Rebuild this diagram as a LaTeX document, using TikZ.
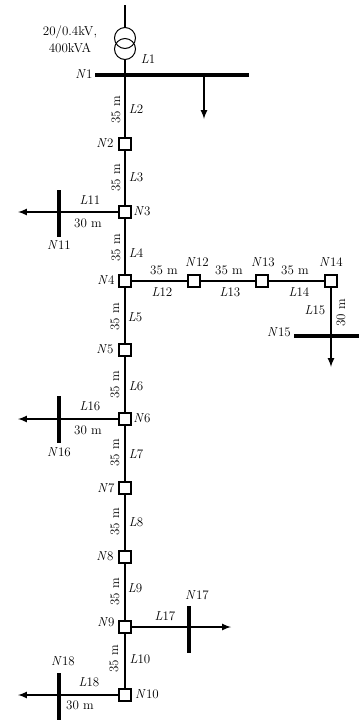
\documentclass[tikz,border=0pt]{standalone}
\usepackage{xcolor}
\usepackage{amsmath}
\usepackage{tikz}

\begin{document}
\begin{tikzpicture}[
  x=1pt,y=-1pt,
  every node/.style={font=\fontsize{13}{14.5}\selectfont,inner sep=0pt},
  busnode/.style={draw,line width=1.1pt,fill=white,minimum size=12pt},
  line/.style={line width=2pt},
  bus/.style={line width=4pt},
  load/.style={line width=2pt,-latex},
  winding/.style={draw,line width=1pt,circle,minimum size=21pt}
  ]
  \useasboundingbox (0,0) rectangle (359,721);
  % feeder ends and bus bars
  \coordinate (top) at (125,5);
  \coordinate (bus1l) at (95,75);
  \coordinate (bus1r) at (249,75);
  \coordinate (bus1m) at (125,75);
  \coordinate (bus1t) at (204,75);
  \coordinate (load1) at (204,119);
  \coordinate (bus11t) at (59,190);
  \coordinate (bus11b) at (59,237);
  \coordinate (bus11m) at (59,212);
  \coordinate (load11) at (18,212);
  \coordinate (bus16t) at (59,396);
  \coordinate (bus16b) at (59,443);
  \coordinate (bus16m) at (59,419);
  \coordinate (load16) at (18,419);
  \coordinate (bus17t) at (189,606);
  \coordinate (bus17b) at (189,653);
  \coordinate (bus17m) at (189,627);
  \coordinate (load17) at (231,627);
  \coordinate (bus18t) at (59,673);
  \coordinate (bus18b) at (59,720);
  \coordinate (bus18m) at (59,695);
  \coordinate (load18) at (18,695);
  \coordinate (bus15l) at (294,336);
  \coordinate (bus15r) at (359,336);
  \coordinate (bus15m) at (331,336);
  \coordinate (load15) at (331,367);

  % transformer
  \node[winding] (hv) at (125,38) {};
  \node[winding] (lv) at (125,49) {};

  % nodes on the feeder
  \node[busnode] (n2) at (125,144) {};
  \node[busnode] (n3) at (125,212) {};
  \node[busnode] (n4) at (125,281) {};
  \node[busnode] (n5) at (125,350) {};
  \node[busnode] (n6) at (125,419) {};
  \node[busnode] (n7) at (125,488) {};
  \node[busnode] (n8) at (125,557) {};
  \node[busnode] (n9) at (125,627) {};
  \node[busnode] (n10) at (125,695) {};
  \node[busnode] (n12) at (194,281) {};
  \node[busnode] (n13) at (262,281) {};
  \node[busnode] (n14) at (331,281) {};

  % lines
  \draw[line] (top) -- (hv);
  \draw[line] (lv) -- (bus1m);
  \draw[line] (bus1m) -- (n2);
  \draw[line] (n2) -- (n3);
  \draw[line] (n3) -- (n4);
  \draw[line] (n4) -- (n5);
  \draw[line] (n5) -- (n6);
  \draw[line] (n6) -- (n7);
  \draw[line] (n7) -- (n8);
  \draw[line] (n8) -- (n9);
  \draw[line] (n9) -- (n10);
  \draw[line] (n4) -- (n12);
  \draw[line] (n12) -- (n13);
  \draw[line] (n13) -- (n14);
  \draw[line] (n14) -- (bus15m);
  \draw[line] (n3) -- (bus11m);
  \draw[line] (n6) -- (bus16m);
  \draw[line] (n9) -- (bus17m);
  \draw[line] (n10) -- (bus18m);

  % bus bars
  \draw[bus] (bus1l) -- (bus1r);
  \draw[bus] (bus11t) -- (bus11b);
  \draw[bus] (bus16t) -- (bus16b);
  \draw[bus] (bus17t) -- (bus17b);
  \draw[bus] (bus18t) -- (bus18b);
  \draw[bus] (bus15l) -- (bus15r);

  % loads
  \draw[load] (bus1t) -- (load1);
  \draw[load] (bus11m) -- (load11);
  \draw[load] (bus16m) -- (load16);
  \draw[load] (bus17m) -- (load17);
  \draw[load] (bus18m) -- (load18);
  \draw[load] (bus15m) -- (load15);

  % node labels
  \node (tn1) at (84,74) {\textit{N}1};
  \node (tn2) at (105,143) {\textit{N}2};
  \node (tn3) at (142,211) {\textit{N}3};
  \node (tn4) at (106,280) {\textit{N}4};
  \node (tn5) at (105,349) {\textit{N}5};
  \node (tn6) at (142,418) {\textit{N}6};
  \node (tn7) at (106,488) {\textit{N}7};
  \node (tn8) at (105,556) {\textit{N}8};
  \node (tn9) at (106,622) {\textit{N}9};
  \node (tn10) at (147,694) {\textit{N}10};
  \node (tn11) at (59,245) {\textit{N}11};
  \node (tn12) at (197,262) {\textit{N}12};
  \node (tn13) at (263,262) {\textit{N}13};
  \node (tn14) at (331,262) {\textit{N}14};
  \node (tn15) at (279,332) {\textit{N}15};
  \node (tn16) at (59,452) {\textit{N}16};
  \node (tn17) at (197,595) {\textit{N}17};
  \node (tn18) at (63,661) {\textit{N}18};

  % line labels
  \node (tl1) at (148,59) {\textit{L}1};
  \node (tl2) at (136,109) {\textit{L}2};
  \node (tl3) at (136,177) {\textit{L}3};
  \node (tl4) at (136,253) {\textit{L}4};
  \node (tl5) at (135,317) {\textit{L}5};
  \node (tl6) at (136,386) {\textit{L}6};
  \node (tl7) at (136,454) {\textit{L}7};
  \node (tl8) at (136,522) {\textit{L}8};
  \node (tl9) at (135,588) {\textit{L}9};
  \node (tl10) at (140,659) {\textit{L}10};
  \node (tl11) at (90,200) {\textit{L}11};
  \node (tl12) at (162,292) {\textit{L}12};
  \node (tl13) at (230,292) {\textit{L}13};
  \node (tl14) at (299,292) {\textit{L}14};
  \node (tl15) at (315,310) {\textit{L}15};
  \node (tl16) at (90,406) {\textit{L}16};
  \node (tl17) at (165,616) {\textit{L}17};
  \node (tl18) at (89,682) {\textit{L}18};

  % lengths
  \node[rotate=90] (d2) at (116,110) {35 m};
  \node[rotate=90] (d3) at (116,178) {35 m};
  \node[rotate=90] (d4) at (116,248) {35 m};
  \node[rotate=90] (d5) at (115,317) {35 m};
  \node[rotate=90] (d6) at (115,385) {35 m};
  \node[rotate=90] (d7) at (115,453) {35 m};
  \node[rotate=90] (d8) at (115,522) {35 m};
  \node[rotate=90] (d9) at (115,592) {35 m};
  \node[rotate=90] (d10) at (114,659) {35 m};
  \node (d11) at (88,223) {30 m};
  \node (d16) at (88,430) {30 m};
  \node (d18) at (80,705) {30 m};
  \node (d12) at (164,270) {35 m};
  \node (d13) at (229,270) {35 m};
  \node (d14) at (295,270) {35 m};
  \node[rotate=90] (d15) at (341,313) {30 m};

  \node[align=center] (trafo) at (70,39) {20/0.4kV,\\[2.5pt]400kVA};
\end{tikzpicture}
\end{document}
